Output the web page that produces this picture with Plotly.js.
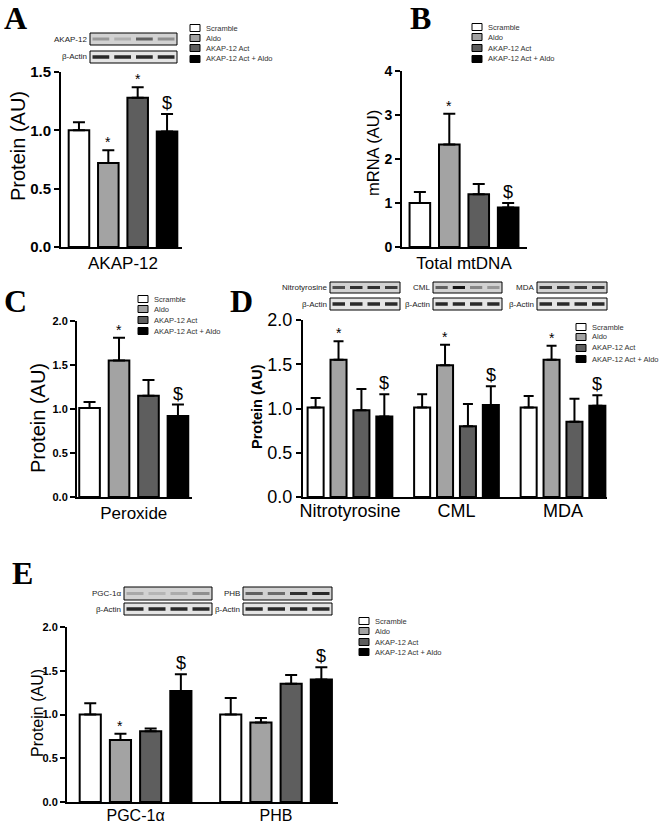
<!DOCTYPE html>
<html><head><meta charset="utf-8">
<script src="https://cdn.plot.ly/plotly-3.0.1.min.js"></script>
<style>html,body{margin:0;padding:0;background:#fff}</style>
</head><body><div id="chart" style="width:660px;height:826px"></div>
<script>
// ---------------- DATA ----------------
const groups = ['Scramble', 'Aldo', 'AKAP-12 Act', 'AKAP-12 Act + Aldo'];

// Panel A (protein, AU)
const catsA = ['AKAP-12'];
const meanA = [[1.00], [0.72], [1.28], [0.99]];
const semA  = [[0.07], [0.11], [0.09], [0.15]];
const markA = [[''], ['*'], ['*'], ['$']];

// Panel B (mRNA, AU)
const catsB = ['Total mtDNA'];
const meanB = [[1.00], [2.33], [1.20], [0.90]];
const semB  = [[0.25], [0.70], [0.23], [0.10]];
const markB = [[''], ['*'], [''], ['$']];

// Panel C (protein, AU)
const catsC = ['Peroxide'];
const meanC = [[1.01], [1.55], [1.15], [0.92]];
const semC  = [[0.07], [0.26], [0.18], [0.13]];
const markC = [[''], ['*'], [''], ['$']];

// Panel D (protein, AU)
const catsD = ['Nitrotyrosine', 'CML', 'MDA'];
const meanD = [[1.01, 1.01, 1.01], [1.55, 1.49, 1.55], [0.98, 0.80, 0.85], [0.91, 1.04, 1.03]];
const semD  = [[0.11, 0.15, 0.13], [0.21, 0.23, 0.16], [0.24, 0.25, 0.26], [0.25, 0.21, 0.12]];
const markD = [['', '', ''], ['*', '*', '*'], ['', '', ''], ['$', '$', '$']];

// Panel E (protein, AU)
const catsE = ['PGC-1α', 'PHB'];
const meanE = [[1.00, 1.00], [0.71, 0.91], [0.81, 1.35], [1.27, 1.40]];
const semE  = [[0.13, 0.19], [0.07, 0.05], [0.03, 0.10], [0.19, 0.14]];
const markE = [['', ''], ['*', ''], ['', ''], ['$', '$']];

// Western blot band darkness per lane (picture inserts)
const blotA = [0.30, 0.18, 0.60, 0.35];
const blotNitro = [0.70, 0.85, 0.85, 0.80];
const blotCML = [0.60, 1.00, 0.40, 0.30];
const blotMDA = [0.80, 0.80, 0.80, 0.80];
const blotPGC = [0.22, 0.15, 0.20, 0.35];
const blotPHB = [0.60, 0.55, 0.85, 0.90];
const blotActin = [0.90, 0.90, 0.90, 0.90];

// ---------------- STYLE / LAYOUT ----------------
const W = 660, H = 826;
const X = px => px / W;
const Y = py => 1 - py / H;
const groupColors = ['#ffffff', '#a3a3a3', '#5e5e5e', '#000000'];
const SANS = 'Liberation Sans, Arial, sans-serif';
const SERIF = 'Liberation Serif, Times New Roman, serif';
const BARGAP = 0.14, GROUPGAP = 0.3;
const SLOT = (1 - BARGAP) / 4;

const panels = [
  {xa:'x',  ya:'y',  cats:catsA, mean:meanA, sem:semA, mark:markA, xpx:[61,182], ypx:[72,247],
   xr:[-0.454,0.432], yr:[0,1.5], dtick:0.5, fmt:'.1f', tf:{size:15, weight:'bold'}, xf:17, xso:0,
   yt:'Protein (AU)', ytf:{size:20}, ytx:18, yty:146, cap:6},
  {xa:'x2', ya:'y2', cats:catsB, mean:meanB, sem:semB, mark:markB, xpx:[402,527], ypx:[71,247],
   xr:[-0.453,0.46], yr:[0,4], dtick:1, fmt:'d', tf:{size:14, weight:'bold'}, xf:17, xso:0,
   yt:'mRNA (AU)', ytf:{size:16.5}, ytx:373, yty:153, cap:6},
  {xa:'x3', ya:'y3', cats:catsC, mean:meanC, sem:semC, mark:markC, xpx:[77,192], ypx:[321,497],
   xr:[-0.414,0.425], yr:[0,2], dtick:0.5, fmt:'.1f', tf:{size:11, weight:'bold'}, xf:17, xso:0,
   yt:'Protein (AU)', ytf:{size:20}, ytx:38, yty:418, cap:6},
  {xa:'x4', ya:'y4', cats:catsD, mean:meanD, sem:semD, mark:markD, xpx:[303,607], ypx:[320,497],
   xr:[-0.441,2.413], yr:[0,2], dtick:0.5, fmt:'.1f', tf:{size:18}, xf:18, xso:-4,
   yt:'Protein (AU)', ytf:{size:14.5, weight:'bold'}, ytx:257, yty:407, cap:5},
  {xa:'x5', ya:'y5', cats:catsE, mean:meanE, sem:semE, mark:markE, xpx:[67,338], ypx:[627,802],
   xr:[-0.488,1.441], yr:[0,2], dtick:0.5, fmt:'.1f', tf:{size:11, weight:'bold'}, xf:16, xso:-2,
   yt:'Protein (AU)', ytf:{size:16}, ytx:37, yty:713, cap:6}
];

const legendPos = [
  {x:190, y:[28,38,48,59]},
  {x:472, y:[27,37,48,59]},
  {x:138, y:[299,309,320,331]},
  {x:576, y:[327,337,348,359]},
  {x:359, y:[621,631,642,652]}
];

const letters = [
  {t:'A', x:15, y:18}, {t:'B', x:420, y:18}, {t:'C', x:15, y:301},
  {t:'D', x:242, y:301}, {t:'E', x:22, y:573}
];

// blots: label, box x0,x1, target y0,y1, actin y0,y1, band darkness
const blots = [
  {label:'AKAP-12', x0:90, x1:177, ty:[33,45], ay:[51,63], bands:blotA},
  {label:'Nitrotyrosine', x0:330, x1:400, ty:[282,293], ay:[298,310], bands:blotNitro},
  {label:'CML', x0:433, x1:502, ty:[282,293], ay:[298,310], bands:blotCML},
  {label:'MDA', x0:537, x1:607, ty:[282,293], ay:[298,310], bands:blotMDA},
  {label:'PGC-1α', x0:124, x1:212, ty:[587,600], ay:[603,615], bands:blotPGC},
  {label:'PHB', x0:243, x1:332, ty:[587,600], ay:[603,615], bands:blotPHB}
];

// ---------------- BUILD ----------------
const data = [];
const annotations = [];
const shapes = [];
const layout = {
  width: W, height: H, margin: {l:0, r:0, t:0, b:0},
  paper_bgcolor: '#fff', plot_bgcolor: 'rgba(0,0,0,0)',
  showlegend: false, barmode: 'group', bargap: BARGAP, bargroupgap: GROUPGAP,
  font: {family: SANS, color: '#000'},
  annotations, shapes
};

panels.forEach((p, pi) => {
  groups.forEach((g, gi) => {
    data.push({
      type: 'bar', name: g, x: p.cats, y: p.mean[gi],
      xaxis: p.xa, yaxis: p.ya,
      marker: {color: groupColors[gi], line: {color: '#000', width: 2}},
      error_y: {type: 'data', symmetric: false, array: p.sem[gi],
                arrayminus: p.sem[gi].map(() => 0), color: '#000', thickness: 2, width: p.cap},
      hoverinfo: 'skip'
    });
    p.mark[gi].forEach((m, ci) => {
      if (!m) return;
      annotations.push({
        xref: p.xa, yref: p.ya, x: ci + (gi - 1.5) * SLOT, y: p.mean[gi][ci] + p.sem[gi][ci],
        text: m, showarrow: false, yanchor: 'bottom', xanchor: 'center',
        font: {family: SANS, size: m === '$' ? 18 : 14, color: '#000'}, yshift: m === '$' ? -1 : -2
      });
    });
  });
  const xk = 'xaxis' + (pi ? pi + 1 : ''), yk = 'yaxis' + (pi ? pi + 1 : '');
  layout[xk] = {
    domain: [X(p.xpx[0]), X(p.xpx[1])], anchor: p.ya, range: p.xr, type: 'category',
    showline: true, linecolor: '#000', linewidth: 2, ticks: '', showgrid: false, zeroline: false,
    tickfont: {family: SANS, size: p.xf, color: '#000'}, ticklabelstandoff: p.xso, fixedrange: true
  };
  layout[yk] = {
    domain: [Y(p.ypx[1]), Y(p.ypx[0])], anchor: p.xa, range: p.yr, dtick: p.dtick, tick0: 0,
    tickformat: p.fmt, showline: true, linecolor: '#000', linewidth: 2,
    ticks: 'outside', ticklen: 5, tickwidth: 2, tickcolor: '#000',
    showgrid: false, zeroline: false, fixedrange: true,
    tickfont: Object.assign({family: SANS, color: '#000'}, p.tf)
  };
  // y-axis title of the panel
  annotations.push({xref:'paper', yref:'paper', x:X(p.ytx), y:Y(p.yty), text:p.yt, textangle:-90,
    showarrow:false, xanchor:'center', yanchor:'middle',
    font:Object.assign({family:SANS, color:'#000'}, p.ytf)});
});

// legends
legendPos.forEach(L => {
  groups.forEach((g, gi) => {
    shapes.push({type:'rect', xref:'paper', yref:'paper', x0:X(L.x), x1:X(L.x+10),
      y0:Y(L.y[gi]+3.5), y1:Y(L.y[gi]-3.5), fillcolor: groupColors[gi], line:{color:'#000', width:1}});
    annotations.push({xref:'paper', yref:'paper', x:X(L.x+14), y:Y(L.y[gi]), text:g,
      showarrow:false, xanchor:'left', yanchor:'middle', font:{family:SANS, size:7.5, color:'#333'}});
  });
});

// panel letters
letters.forEach(l => annotations.push({xref:'paper', yref:'paper', x:X(l.x), y:Y(l.y), text:l.t,
  showarrow:false, xanchor:'center', yanchor:'middle', font:{family:SERIF, size:32, weight:'bold', color:'#000'}}));

// blots
function blotBox(x0, x1, y0, y1, bands, bg, bh) {
  shapes.push({type:'rect', xref:'paper', yref:'paper', x0:X(x0), x1:X(x1), y0:Y(y1), y1:Y(y0),
    fillcolor: bg, line:{color:'#000', width:1}});
  const w = (x1 - x0) / 4, cy = (y0 + y1) / 2;
  bands.forEach((d, i) => {
    shapes.push({type:'rect', xref:'paper', yref:'paper', x0:X(x0 + i*w + 2.5), x1:X(x0 + (i+1)*w - 2.5),
      y0:Y(cy + bh/2), y1:Y(cy - bh/2), fillcolor:'rgba(20,20,20,' + d + ')', line:{width:0}});
  });
}
blots.forEach(b => {
  blotBox(b.x0, b.x1, b.ty[0], b.ty[1], b.bands, '#d2d2d2', 3);
  blotBox(b.x0, b.x1, b.ay[0], b.ay[1], blotActin, '#e4e4e4', 3.5);
  annotations.push({xref:'paper', yref:'paper', x:X(b.x0 - 1), y:Y((b.ty[0]+b.ty[1])/2), text:b.label,
    showarrow:false, xanchor:'right', yanchor:'middle', font:{family:SANS, size:8, color:'#222'}});
  annotations.push({xref:'paper', yref:'paper', x:X(b.x0 - 1), y:Y((b.ay[0]+b.ay[1])/2), text:'β-Actin',
    showarrow:false, xanchor:'right', yanchor:'middle', font:{family:SANS, size:8, color:'#222'}});
});

Plotly.newPlot('chart', data, layout, {staticPlot: true, displayModeBar: false});
</script>
</body></html>
